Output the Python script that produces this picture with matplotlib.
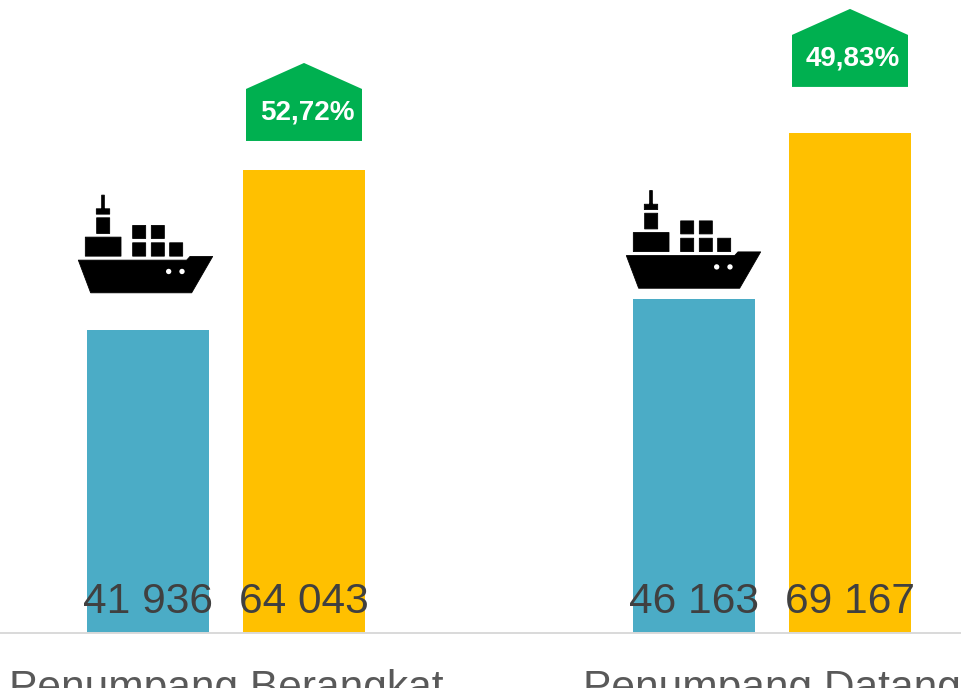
import matplotlib
matplotlib.use("Agg")
import matplotlib.pyplot as plt
from matplotlib.path import Path
from matplotlib.patches import PathPatch, Polygon
from matplotlib.transforms import Affine2D, Bbox

categories = ["Penumpang Berangkat", "Penumpang Datang"]
series_a = [41936, 46163]
series_b = [64043, 69167]
value_labels_a = ["41 936", "46 163"]
value_labels_b = ["64 043", "69 167"]
growth_labels = ["52,72%", "49,83%"]

plt.rcParams["font.family"] = ["Liberation Sans", "DejaVu Sans"]
W, H = 961, 693
BASE_PX = 633
PX_PER_UNIT = 0.00723
CAT_STEP = 546
FIRST_CAT = 226
BAR_W = 122 / CAT_STEP
OFFSET = 78 / CAT_STEP

fig = plt.figure(figsize=(W / 100, H / 100), dpi=100, facecolor="white")
ax = fig.add_axes([0, (H - BASE_PX) / H, 1, BASE_PX / H])
ax.set_xlim(-FIRST_CAT / CAT_STEP, (W - FIRST_CAT) / CAT_STEP)
ax.set_ylim(0, BASE_PX / PX_PER_UNIT)
ax.patch.set_alpha(0)
for s in ("top", "left", "right"):
    ax.spines[s].set_visible(False)
ax.spines["bottom"].set_color("#D9D9D9")
ax.spines["bottom"].set_linewidth(1.4)
ax.set_yticks([])

xs = list(range(len(categories)))
xa = [x - OFFSET for x in xs]
xb = [x + OFFSET for x in xs]
ax.bar(xa, series_a, BAR_W, color="#4BACC6", zorder=2)
ax.bar(xb, series_b, BAR_W, color="#FFC000", zorder=2)

ax.set_xticks(xs)
ax.set_xticklabels(categories, fontsize=30.6, color="#595959")
ax.tick_params(axis="x", length=0, pad=26)
clip = Bbox([[0, H - 688], [W, H]])
for lab in ax.get_xticklabels():
    lab.set_clip_on(True)
    lab.set_clip_box(clip)


def px_anchor(x, y, dx=0, dy=0):
    px, py = ax.transData.transform((x, y))
    return Affine2D().translate(px + dx, py + dy)


for xpos, vals, labs in ((xa, series_a, value_labels_a), (xb, series_b, value_labels_b)):
    for x, lab in zip(xpos, labs):
        ax.annotate(lab, (x, 0), xytext=(0, 14.4), textcoords="offset points",
                    ha="center", va="baseline", fontsize=30.6, color="#404040", zorder=5)

# Growth badges (house shape), pixel shape relative to bar centre
BADGE_GAP = [29, 46]
badge_shape = [(-58, 0), (58, 0), (58, 52), (0, 78), (-58, 52)]
for x, v, lab, gap in zip(xb, series_b, growth_labels, BADGE_GAP):
    t = px_anchor(x, v, 0, gap)
    ax.add_patch(Polygon(badge_shape, closed=True, facecolor="#00B050", edgecolor="none",
                         transform=t, clip_on=False, zorder=4))
    ax.annotate(lab, (x, v), xytext=(3 * 0.72, (gap + 21) * 0.72), textcoords="offset points",
                ha="center", va="baseline", fontsize=20, fontweight="bold", color="white", zorder=5)


# Ship icon, drawn in a zoomed local grid (units are 1/3 px)
def rect(x0, y0, x1, y1):
    return [(x0, y0), (x1, y0), (x1, y1), (x0, y1), (x0, y0)]


ship_parts = [
    [(55, 242), (380, 242), (390, 231), (458, 231), (395, 340), (92, 340), (55, 242)],
    rect(218, 138, 257, 177), rect(274, 138, 313, 177),
    rect(218, 190, 257, 230), rect(274, 190, 313, 230), rect(329, 190, 368, 230),
    rect(76, 173, 183, 230), rect(110, 115, 149, 162),
    rect(109, 88, 149, 104), rect(125, 47, 133, 90),
]
verts, codes = [], []
for part in ship_parts:
    verts += part
    codes += [Path.MOVETO] + [Path.LINETO] * (len(part) - 2) + [Path.CLOSEPOLY]
ship_path = Path(verts, codes)
portholes = [(326, 276), (366, 276)]

SHIP_GAP = [37, 11]
SHIP_SHIFT = [-2.5, -0.5]
for x, v, gap, sh in zip(xa, series_a, SHIP_GAP, SHIP_SHIFT):
    t = Affine2D().translate(-256.5, -340).scale(1 / 3, -1 / 3) + px_anchor(x, v, sh, gap)
    ax.add_patch(PathPatch(ship_path, facecolor="black", edgecolor="black", linewidth=0.6,
                           joinstyle="round", transform=t, clip_on=False, zorder=4))
    for c in portholes:
        circ = Path.circle(c, 8)
        ax.add_patch(PathPatch(circ, facecolor="white", edgecolor="none",
                               transform=t, clip_on=False, zorder=5))

fig.savefig("out.png", dpi=100, facecolor="white")
